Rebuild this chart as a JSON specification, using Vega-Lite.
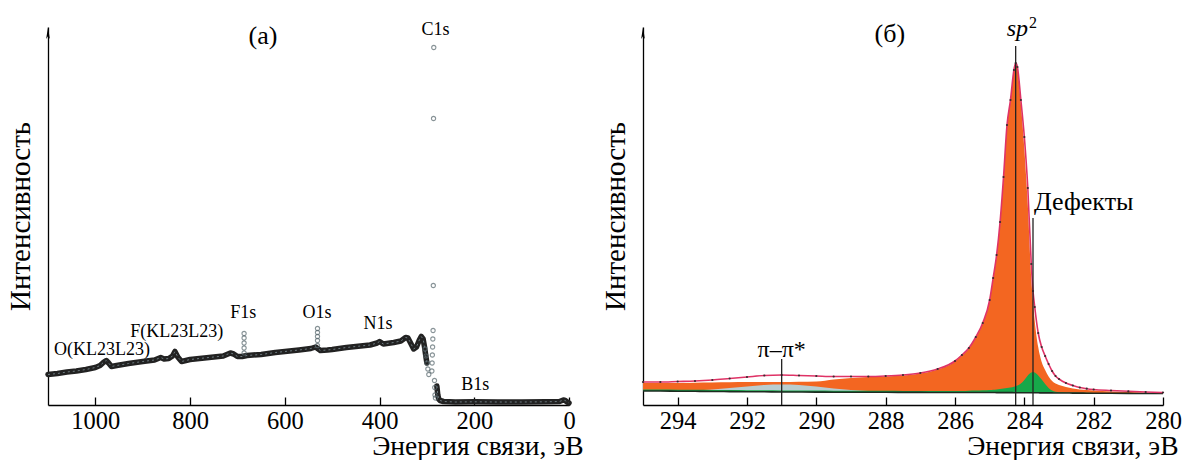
{
  "$schema": "https://vega.github.io/schema/vega-lite/v6.json",
  "padding": {"left": 6, "top": 14, "right": 0, "bottom": 0},
  "background": "white",
  "bounds": "flush",
  "spacing": 74,
  "config": {
    "view": {"stroke": null},
    "font": "Liberation Serif, Times New Roman, serif",
    "axis": {"domainColor": "#000", "domainWidth": 1.3, "tickColor": "#000", "tickWidth": 1.3, "grid": false, "labelFont": "Liberation Serif, Times New Roman, serif", "titleFont": "Liberation Serif, Times New Roman, serif", "labelColor": "#000", "titleColor": "#000", "titleFontWeight": "normal"},
    "axisX": {"tickSize": -8, "labelPadding": 12, "labelFontSize": 24.5, "labelFlush": false, "labelOverlap": false, "format": "d", "titleFontSize": 27.5, "titleX": 535, "titleY": 49, "titleAlign": "right", "titleBaseline": "alphabetic"},
    "axisY": {"ticks": false, "labels": false, "titleFontSize": 29, "titlePadding": 13},
    "text": {"font": "Liberation Serif, Times New Roman, serif", "color": "#000"}
  },
  "datasets": {
    "band": [
      {"seg": "a", "e": 1100, "i": 30.5}, {"seg": "a", "e": 1080, "i": 31.5}, {"seg": "a", "e": 1060, "i": 33}, {"seg": "a", "e": 1040, "i": 34}, {"seg": "a", "e": 1020, "i": 35.5}, {"seg": "a", "e": 1000, "i": 37.5}, {"seg": "a", "e": 990, "i": 39.5}, {"seg": "a", "e": 982, "i": 43}, {"seg": "a", "e": 977, "i": 44.5}, {"seg": "a", "e": 972, "i": 42}, {"seg": "a", "e": 966, "i": 38.5}, {"seg": "a", "e": 955, "i": 39.5}, {"seg": "a", "e": 930, "i": 41.5}, {"seg": "a", "e": 900, "i": 43.5}, {"seg": "a", "e": 875, "i": 45}, {"seg": "a", "e": 862, "i": 47.5}, {"seg": "a", "e": 855, "i": 46}, {"seg": "a", "e": 845, "i": 46.5}, {"seg": "a", "e": 837, "i": 49}, {"seg": "a", "e": 832, "i": 53.5}, {"seg": "a", "e": 826, "i": 48}, {"seg": "a", "e": 818, "i": 43.5}, {"seg": "a", "e": 800, "i": 45.5}, {"seg": "a", "e": 780, "i": 46.5}, {"seg": "a", "e": 760, "i": 47.5}, {"seg": "a", "e": 730, "i": 49}, {"seg": "a", "e": 715, "i": 52}, {"seg": "a", "e": 708, "i": 51}, {"seg": "a", "e": 700, "i": 48.5}, {"seg": "a", "e": 690, "i": 48.5}, {"seg": "a", "e": 680, "i": 49.5}, {"seg": "a", "e": 650, "i": 50.5}, {"seg": "a", "e": 620, "i": 52.5}, {"seg": "a", "e": 600, "i": 53.5}, {"seg": "a", "e": 570, "i": 55}, {"seg": "a", "e": 545, "i": 56.5}, {"seg": "a", "e": 535, "i": 58}, {"seg": "a", "e": 525, "i": 54.5}, {"seg": "a", "e": 510, "i": 55}, {"seg": "a", "e": 500, "i": 55.5}, {"seg": "a", "e": 470, "i": 57.5}, {"seg": "a", "e": 450, "i": 58.5}, {"seg": "a", "e": 420, "i": 60}, {"seg": "a", "e": 405, "i": 62}, {"seg": "a", "e": 400, "i": 63.5}, {"seg": "a", "e": 392, "i": 61}, {"seg": "a", "e": 370, "i": 62.5}, {"seg": "a", "e": 355, "i": 64}, {"seg": "a", "e": 345, "i": 67.5}, {"seg": "a", "e": 340, "i": 67}, {"seg": "a", "e": 335, "i": 62.5}, {"seg": "a", "e": 328, "i": 56}, {"seg": "a", "e": 322, "i": 58}, {"seg": "a", "e": 316, "i": 65}, {"seg": "a", "e": 312, "i": 68.5}, {"seg": "a", "e": 308, "i": 66}, {"seg": "a", "e": 305, "i": 58}, {"seg": "a", "e": 302, "i": 48}, {"seg": "a", "e": 300, "i": 42},
      {"seg": "b", "e": 279, "i": 19}, {"seg": "b", "e": 277, "i": 10}, {"seg": "b", "e": 275, "i": 6}, {"seg": "b", "e": 272, "i": 4.5}, {"seg": "b", "e": 265, "i": 3.5}, {"seg": "b", "e": 240, "i": 3}, {"seg": "b", "e": 200, "i": 3.2}, {"seg": "b", "e": 150, "i": 3}, {"seg": "b", "e": 100, "i": 3}, {"seg": "b", "e": 50, "i": 3.2}, {"seg": "b", "e": 20, "i": 3.5}, {"seg": "b", "e": 12, "i": 5}, {"seg": "b", "e": 8, "i": 4.5}, {"seg": "b", "e": 4, "i": 3}, {"seg": "b", "e": 0, "i": 2}
    ],
    "pts": [
      {"e": 686, "i": 52}, {"e": 686, "i": 57}, {"e": 686, "i": 62}, {"e": 686, "i": 67}, {"e": 686, "i": 71.5},
      {"e": 531, "i": 59.5}, {"e": 531, "i": 64.5}, {"e": 531, "i": 68.5}, {"e": 531, "i": 72.5}, {"e": 531, "i": 76.5},
      {"e": 304, "i": 56}, {"e": 302, "i": 49}, {"e": 300, "i": 42}, {"e": 298, "i": 36}, {"e": 296, "i": 30.5},
      {"e": 289.5, "i": 34}, {"e": 289, "i": 42}, {"e": 288.5, "i": 50}, {"e": 288, "i": 58}, {"e": 287.5, "i": 66}, {"e": 287, "i": 74.5},
      {"e": 286.5, "i": 119.5}, {"e": 286, "i": 286.5}, {"e": 285.5, "i": 357.5},
      {"e": 284, "i": 24.5}, {"e": 283.5, "i": 17.5}, {"e": 283, "i": 10}, {"e": 282, "i": 7}
    ],
    "survlab": [
      {"e": 282, "i": 375.5, "t": "C1s"},
      {"e": 688, "i": 92.5, "t": "F1s"},
      {"e": 532, "i": 92.5, "t": "O1s"},
      {"e": 403, "i": 81.5, "t": "N1s"},
      {"e": 828, "i": 73.5, "t": "F(KL23L23)"},
      {"e": 986, "i": 55.5, "t": "O(KL23L23)"},
      {"e": 198, "i": 20.5, "t": "B1s"}
    ],
    "xps": [
      {"e": 295.0, "bg": 14, "or": 22, "pi": 14, "gr": 15.5, "env": 23},
      {"e": 294.5, "bg": 14, "or": 22, "pi": 14, "gr": 15.5, "env": 23},
      {"e": 294.0, "bg": 13.8, "or": 22, "pi": 14, "gr": 15.3, "env": 23.5},
      {"e": 293.5, "bg": 13.7, "or": 22.3, "pi": 14.5, "gr": 15.2, "env": 24},
      {"e": 293.0, "bg": 13.5, "or": 22.5, "pi": 15.5, "gr": 15, "env": 25},
      {"e": 292.5, "bg": 13.4, "or": 22.7, "pi": 17, "gr": 15, "env": 26.5},
      {"e": 292.0, "bg": 13.3, "or": 23, "pi": 18.5, "gr": 14.8, "env": 28},
      {"e": 291.5, "bg": 13.2, "or": 23, "pi": 20, "gr": 14.7, "env": 29.5},
      {"e": 291.0, "bg": 13, "or": 23, "pi": 20.5, "gr": 14.5, "env": 30},
      {"e": 290.5, "bg": 13, "or": 23.2, "pi": 20, "gr": 14.5, "env": 29.5},
      {"e": 290.0, "bg": 12.9, "or": 23.5, "pi": 18.5, "gr": 14.4, "env": 29},
      {"e": 289.5, "bg": 12.8, "or": 25.5, "pi": 16.5, "gr": 14.3, "env": 28.5},
      {"e": 289.0, "bg": 12.8, "or": 27, "pi": 15, "gr": 14.3, "env": 28.5},
      {"e": 288.5, "bg": 12.7, "or": 28, "pi": 14, "gr": 14.2, "env": 28.5},
      {"e": 288.0, "bg": 12.7, "or": 28.5, "pi": 13, "gr": 14.2, "env": 29},
      {"e": 287.5, "bg": 12.6, "or": 29.5, "pi": 12.6, "gr": 14.1, "env": 30},
      {"e": 287.0, "bg": 12.6, "or": 31.5, "pi": 12.6, "gr": 14, "env": 32},
      {"e": 286.5, "bg": 12.5, "or": 35.5, "pi": 12.5, "gr": 14, "env": 36},
      {"e": 286.0, "bg": 12.5, "or": 43.5, "pi": 12.5, "gr": 14, "env": 44},
      {"e": 285.8, "bg": 12.5, "or": 49.5, "pi": 12.5, "gr": 14, "env": 50},
      {"e": 285.6, "bg": 12.5, "or": 56.5, "pi": 12.5, "gr": 14.2, "env": 57},
      {"e": 285.4, "bg": 12.5, "or": 67.5, "pi": 12.5, "gr": 14.4, "env": 68},
      {"e": 285.2, "bg": 12.5, "or": 81.5, "pi": 12.5, "gr": 14.7, "env": 82},
      {"e": 285.0, "bg": 12.5, "or": 104.5, "pi": 12.5, "gr": 15, "env": 105},
      {"e": 284.9, "bg": 12.5, "or": 126.5, "pi": 12.5, "gr": 15.3, "env": 127},
      {"e": 284.8, "bg": 12.4, "or": 149.5, "pi": 12.4, "gr": 15.6, "env": 150},
      {"e": 284.7, "bg": 12.4, "or": 182.5, "pi": 12.4, "gr": 16, "env": 183},
      {"e": 284.6, "bg": 12.4, "or": 227.5, "pi": 12.4, "gr": 16.5, "env": 228},
      {"e": 284.5, "bg": 12.4, "or": 279.5, "pi": 12.4, "gr": 17, "env": 280},
      {"e": 284.4, "bg": 12.4, "or": 304.5, "pi": 12.4, "gr": 17.5, "env": 305},
      {"e": 284.3, "bg": 12.3, "or": 334.5, "pi": 12.3, "gr": 18.3, "env": 335},
      {"e": 284.25, "bg": 12.3, "or": 341.5, "pi": 12.3, "gr": 18.8, "env": 342},
      {"e": 284.2, "bg": 12.3, "or": 337, "pi": 12.3, "gr": 19.5, "env": 338},
      {"e": 284.1, "bg": 12.3, "or": 301, "pi": 12.3, "gr": 21.5, "env": 305},
      {"e": 284.0, "bg": 12.3, "or": 256, "pi": 12.3, "gr": 25, "env": 268},
      {"e": 283.9, "bg": 12.2, "or": 200, "pi": 12.2, "gr": 29.5, "env": 217},
      {"e": 283.8, "bg": 12.2, "or": 126, "pi": 12.2, "gr": 32.5, "env": 141},
      {"e": 283.75, "bg": 12.2, "or": 104, "pi": 12.2, "gr": 33, "env": 114},
      {"e": 283.7, "bg": 12.2, "or": 84, "pi": 12.2, "gr": 32.5, "env": 98},
      {"e": 283.6, "bg": 12.2, "or": 58, "pi": 12.2, "gr": 29.5, "env": 72},
      {"e": 283.5, "bg": 12.1, "or": 43, "pi": 12.1, "gr": 25.5, "env": 58},
      {"e": 283.4, "bg": 12.1, "or": 35, "pi": 12.1, "gr": 21, "env": 49},
      {"e": 283.3, "bg": 12.1, "or": 28.5, "pi": 12.1, "gr": 17, "env": 41},
      {"e": 283.2, "bg": 12.1, "or": 24, "pi": 12.1, "gr": 14.5, "env": 34},
      {"e": 283.1, "bg": 12, "or": 21.5, "pi": 12, "gr": 13.2, "env": 29},
      {"e": 283.0, "bg": 12, "or": 20, "pi": 12, "gr": 12.8, "env": 26},
      {"e": 282.8, "bg": 12, "or": 18, "pi": 12, "gr": 12.6, "env": 22},
      {"e": 282.6, "bg": 11.9, "or": 16.5, "pi": 11.9, "gr": 12.4, "env": 19.5},
      {"e": 282.4, "bg": 11.9, "or": 15.5, "pi": 11.9, "gr": 12.3, "env": 17.5},
      {"e": 282.2, "bg": 11.8, "or": 15, "pi": 11.8, "gr": 12.2, "env": 16.3},
      {"e": 282.0, "bg": 11.8, "or": 14.5, "pi": 11.8, "gr": 12.1, "env": 15.5},
      {"e": 281.5, "bg": 11.7, "or": 13.5, "pi": 11.7, "gr": 12, "env": 14.5},
      {"e": 281.0, "bg": 11.6, "or": 13, "pi": 11.6, "gr": 11.9, "env": 13.7},
      {"e": 280.5, "bg": 11.5, "or": 12.3, "pi": 11.5, "gr": 11.8, "env": 13},
      {"e": 280.0, "bg": 11.5, "or": 12, "pi": 11.5, "gr": 11.7, "env": 12.5}
    ],
    "vlines": [
      {"e": 284.25, "top": 359},
      {"e": 283.75, "top": 187},
      {"e": 291.0, "top": 46}
    ]
  },
  "hconcat": [
    {
      "width": 521,
      "height": 378,
      "layer": [
        {
          "data": {"name": "band"},
          "mark": {"type": "line", "color": "#222222", "strokeWidth": 5.5, "strokeJoin": "round", "strokeCap": "round"},
          "encoding": {
            "x": {"field": "e", "type": "quantitative", "title": "Энергия связи, эВ", "scale": {"domain": [0, 1100], "reverse": true, "nice": false, "zero": false}, "axis": {"values": [1000, 800, 600, 400, 200, 0]}},
            "y": {"field": "i", "type": "quantitative", "title": "Интенсивность", "scale": {"domain": [0, 378], "nice": false, "zero": false}},
            "detail": {"field": "seg"}
          }
        },
        {
          "data": {"name": "band"},
          "mark": {"type": "line", "color": "#6f7d82", "strokeWidth": 1, "strokeDash": [2, 3]},
          "encoding": {
            "x": {"field": "e", "type": "quantitative", "title": "Энергия связи, эВ"},
            "y": {"field": "i", "type": "quantitative", "title": "Интенсивность"},
            "detail": {"field": "seg"}
          }
        },
        {
          "data": {"name": "pts"},
          "mark": {"type": "point", "shape": "circle", "filled": false, "stroke": "#56666c", "strokeWidth": 1.1, "size": 18},
          "encoding": {
            "x": {"field": "e", "type": "quantitative", "title": "Энергия связи, эВ"},
            "y": {"field": "i", "type": "quantitative", "title": "Интенсивность"}
          }
        },
        {
          "data": {"name": "survlab"},
          "mark": {"type": "text", "fontSize": 18, "baseline": "middle", "align": "center"},
          "encoding": {
            "x": {"field": "e", "type": "quantitative", "title": "Энергия связи, эВ"},
            "y": {"field": "i", "type": "quantitative", "title": "Интенсивность"},
            "text": {"field": "t"}
          }
        },
        {
          "data": {"values": [{"t": "(а)", "e": 646, "i": 369.5}]},
          "mark": {"type": "text", "fontSize": 26, "baseline": "middle", "align": "center"},
          "encoding": {
            "x": {"field": "e", "type": "quantitative", "title": "Энергия связи, эВ"},
            "y": {"field": "i", "type": "quantitative", "title": "Интенсивность"},
            "text": {"field": "t"}
          }
        },
        {
          "data": {"values": [{}]},
          "mark": {"type": "point", "shape": "M0,-1L0.3,1L0,0.55L-0.3,1Z", "filled": true, "color": "#000", "opacity": 1, "size": 150},
          "encoding": {
            "x": {"datum": 1100, "type": "quantitative"},
            "y": {"datum": 372, "type": "quantitative"}
          }
        }
      ]
    },
    {
      "width": 520,
      "height": 378,
      "layer": [
        {
          "data": {"name": "xps"},
          "mark": {"type": "area", "color": "#F36621", "interpolate": "monotone", "opacity": 1},
          "encoding": {
            "x": {"field": "e", "type": "quantitative", "title": "Энергия связи, эВ", "scale": {"domain": [280, 295], "reverse": true, "nice": false, "zero": false}, "axis": {"values": [294, 292, 290, 288, 286, 284, 282, 280]}},
            "y": {"field": "or", "type": "quantitative", "title": "Интенсивность", "scale": {"domain": [0, 378], "nice": false, "zero": false}},
            "y2": {"field": "bg"}
          }
        },
        {
          "data": {"name": "xps"},
          "mark": {"type": "area", "color": "#B9CDD0", "interpolate": "monotone", "opacity": 1},
          "encoding": {
            "x": {"field": "e", "type": "quantitative", "title": "Энергия связи, эВ"},
            "y": {"field": "pi", "type": "quantitative", "title": "Интенсивность"},
            "y2": {"field": "bg"}
          }
        },
        {
          "data": {"name": "xps"},
          "mark": {"type": "area", "color": "#17A84A", "interpolate": "monotone", "opacity": 1},
          "encoding": {
            "x": {"field": "e", "type": "quantitative", "title": "Энергия связи, эВ"},
            "y": {"field": "gr", "type": "quantitative", "title": "Интенсивность"},
            "y2": {"field": "bg"}
          }
        },
        {
          "data": {"name": "xps"},
          "mark": {"type": "line", "color": "#1D2A20", "strokeWidth": 1.6, "interpolate": "monotone"},
          "encoding": {
            "x": {"field": "e", "type": "quantitative", "title": "Энергия связи, эВ"},
            "y": {"field": "bg", "type": "quantitative", "title": "Интенсивность"}
          }
        },
        {
          "data": {"name": "xps"},
          "mark": {"type": "line", "color": "#DF3366", "strokeWidth": 1.6, "interpolate": "monotone"},
          "encoding": {
            "x": {"field": "e", "type": "quantitative", "title": "Энергия связи, эВ"},
            "y": {"field": "env", "type": "quantitative", "title": "Интенсивность"}
          }
        },
        {
          "data": {"name": "xps"},
          "mark": {"type": "point", "filled": true, "color": "#3b2b30", "size": 5, "opacity": 1},
          "encoding": {
            "x": {"field": "e", "type": "quantitative", "title": "Энергия связи, эВ"},
            "y": {"field": "env", "type": "quantitative", "title": "Интенсивность"}
          }
        },
        {
          "data": {"name": "vlines"},
          "mark": {"type": "rule", "color": "#222", "strokeWidth": 1.3},
          "encoding": {
            "x": {"field": "e", "type": "quantitative", "title": "Энергия связи, эВ"},
            "y": {"field": "top", "type": "quantitative", "title": "Интенсивность"},
            "y2": {"datum": 0}
          }
        },
        {
          "data": {"values": [{"t": "(б)", "e": 287.88, "i": 371.5}]},
          "mark": {"type": "text", "fontSize": 26, "baseline": "middle", "align": "center"},
          "encoding": {
            "x": {"field": "e", "type": "quantitative", "title": "Энергия связи, эВ"},
            "y": {"field": "i", "type": "quantitative", "title": "Интенсивность"},
            "text": {"field": "t"}
          }
        },
        {
          "data": {"values": [{"t": "π–π*", "e": 291.0, "i": 55.5}]},
          "mark": {"type": "text", "fontSize": 24, "baseline": "middle", "align": "center"},
          "encoding": {
            "x": {"field": "e", "type": "quantitative", "title": "Энергия связи, эВ"},
            "y": {"field": "i", "type": "quantitative", "title": "Интенсивность"},
            "text": {"field": "t"}
          }
        },
        {
          "data": {"values": [{"t": "Дефекты", "e": 283.72, "i": 203.5}]},
          "mark": {"type": "text", "fontSize": 26, "baseline": "middle", "align": "left"},
          "encoding": {
            "x": {"field": "e", "type": "quantitative", "title": "Энергия связи, эВ"},
            "y": {"field": "i", "type": "quantitative", "title": "Интенсивность"},
            "text": {"field": "t"}
          }
        },
        {
          "data": {"values": [{"t": "sp", "e": 284.2, "i": 369}]},
          "mark": {"type": "text", "fontSize": 24, "fontStyle": "italic", "baseline": "alphabetic", "align": "center"},
          "encoding": {
            "x": {"field": "e", "type": "quantitative", "title": "Энергия связи, эВ"},
            "y": {"field": "i", "type": "quantitative", "title": "Интенсивность"},
            "text": {"field": "t"}
          }
        },
        {
          "data": {"values": [{"t": "2", "e": 283.75, "i": 382}]},
          "mark": {"type": "text", "fontSize": 16, "baseline": "middle", "align": "center"},
          "encoding": {
            "x": {"field": "e", "type": "quantitative", "title": "Энергия связи, эВ"},
            "y": {"field": "i", "type": "quantitative", "title": "Интенсивность"},
            "text": {"field": "t"}
          }
        },
        {
          "data": {"values": [{}]},
          "mark": {"type": "point", "shape": "M0,-1L0.3,1L0,0.55L-0.3,1Z", "filled": true, "color": "#000", "opacity": 1, "size": 150},
          "encoding": {
            "x": {"datum": 295, "type": "quantitative"},
            "y": {"datum": 372, "type": "quantitative"}
          }
        }
      ]
    }
  ]
}
